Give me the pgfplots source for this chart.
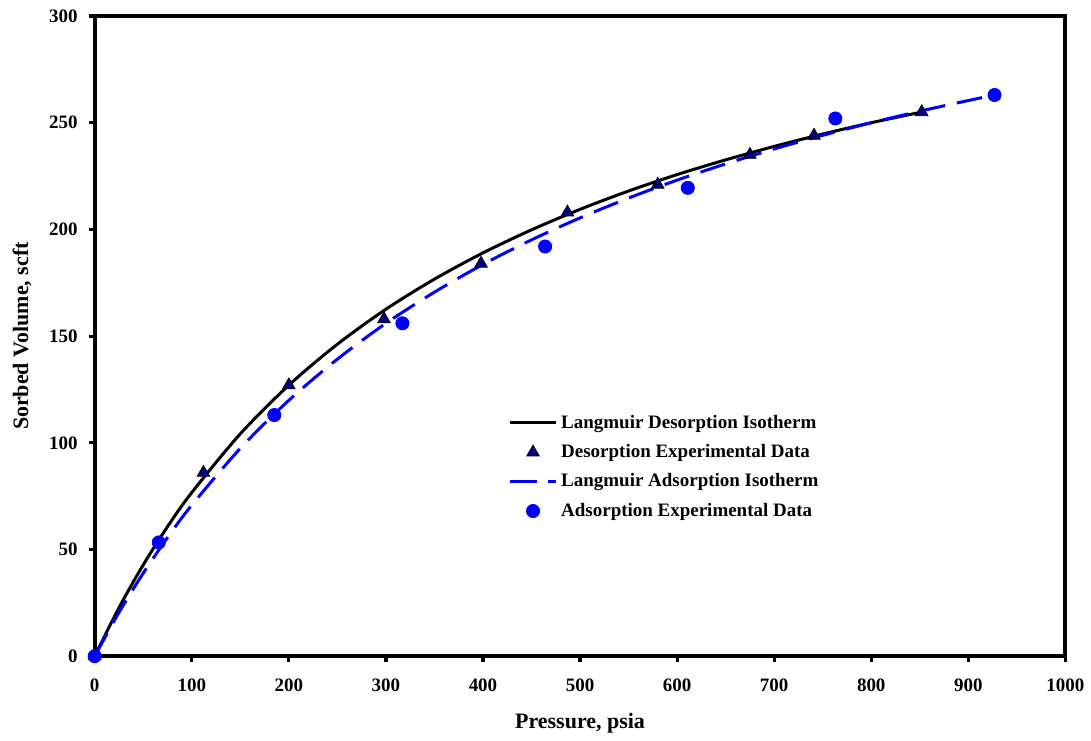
\documentclass[border=0pt]{standalone}
\usepackage{pgfplots}
\pgfplotsset{compat=1.18}
\usepackage{fontspec}
\setmainfont{Liberation Serif}
\definecolor{navyT}{RGB}{0,0,128}
\begin{document}
\begin{tikzpicture}
\begin{axis}[
  scale only axis,
  width=486pt, height=320.5pt,
  xmin=0, xmax=1000, ymin=0, ymax=300,
  xtick={0,100,...,1000}, ytick={0,50,...,300},
  tick align=outside, xtick pos=left, ytick pos=left,
  major tick length=3pt,
  tick style={line width=1.6pt, black},
  axis line style={line width=2pt},
  /pgf/number format/assume math mode=true,
  /pgf/number format/1000 sep={},
  ticklabel style={font=\bfseries\fontsize{9.5}{11}\selectfont},
  xticklabel style={yshift=-5pt},
  yticklabel style={xshift=-2pt},
  xlabel={Pressure, psia}, ylabel={Sorbed Volume, scft},
  label style={font=\bfseries\fontsize{11}{13}\selectfont},
  xlabel style={yshift=-4pt},
  ylabel style={yshift=2pt},
  clip=false,
  legend style={draw=none, fill=none, at={(rel axis cs:0.42,0.39)}, anchor=north west,
    font=\bfseries\fontsize{9.5}{12}\selectfont, row sep=2.6pt},
  legend cell align=left,
  legend image code/.code={\draw[mark repeat=2,mark phase=2,#1] plot coordinates {(0cm,0cm) (0.4cm,0cm) (0.8cm,0cm)};},
]
\addplot[black, line width=1.5pt, smooth] coordinates {
(0,0) (25,22.7) (50,42.8) (75,60.7) (100,76.7) (150,104.2) (200,127.0) (250,146.2)
(300,162.6) (350,176.7) (400,189.0) (450,199.8) (500,209.4) (550,218.0) (600,225.7)
(650,232.6) (700,238.9) (750,244.7) (800,250.0) (852,255.0)};
\addlegendentry{Langmuir Desorption Isotherm}
\addplot[only marks, mark=triangle*, mark size=3.6pt, mark options={fill=navyT, draw=black, line width=0.4pt}] coordinates {
(0,0) (112,86) (200,127) (298,158) (398,184) (487,208) (580,221) (675,235) (741,244) (852,255)};
\addlegendentry{Desorption Experimental Data}
\addplot[blue, line width=1.5pt, dash pattern=on 13pt off 6pt, smooth] coordinates {
(0,0) (25,20.5) (50,38.9) (75,55.6) (100,70.8) (150,97.4) (200,119.9) (250,139.2)
(300,156.0) (350,170.6) (400,183.6) (450,195.1) (500,205.4) (550,214.7) (600,223.1)
(650,230.7) (700,237.7) (750,244.1) (800,250.0) (850,255.4) (900,260.4) (927,263.0)};
\addlegendentry{Langmuir Adsorption Isotherm}
\addplot[only marks, mark=*, mark size=3.3pt, mark options={fill=blue, draw=blue}] coordinates {
(0,0) (66,53.3) (185,113) (317,156) (464,192) (611,219.5) (763,252) (927,263)};
\addlegendentry{Adsorption Experimental Data}
\end{axis}
\path (current bounding box.west) ++(-3pt,0);
\path (current bounding box.north) ++(0,1.5pt);
\end{tikzpicture}
\end{document}
